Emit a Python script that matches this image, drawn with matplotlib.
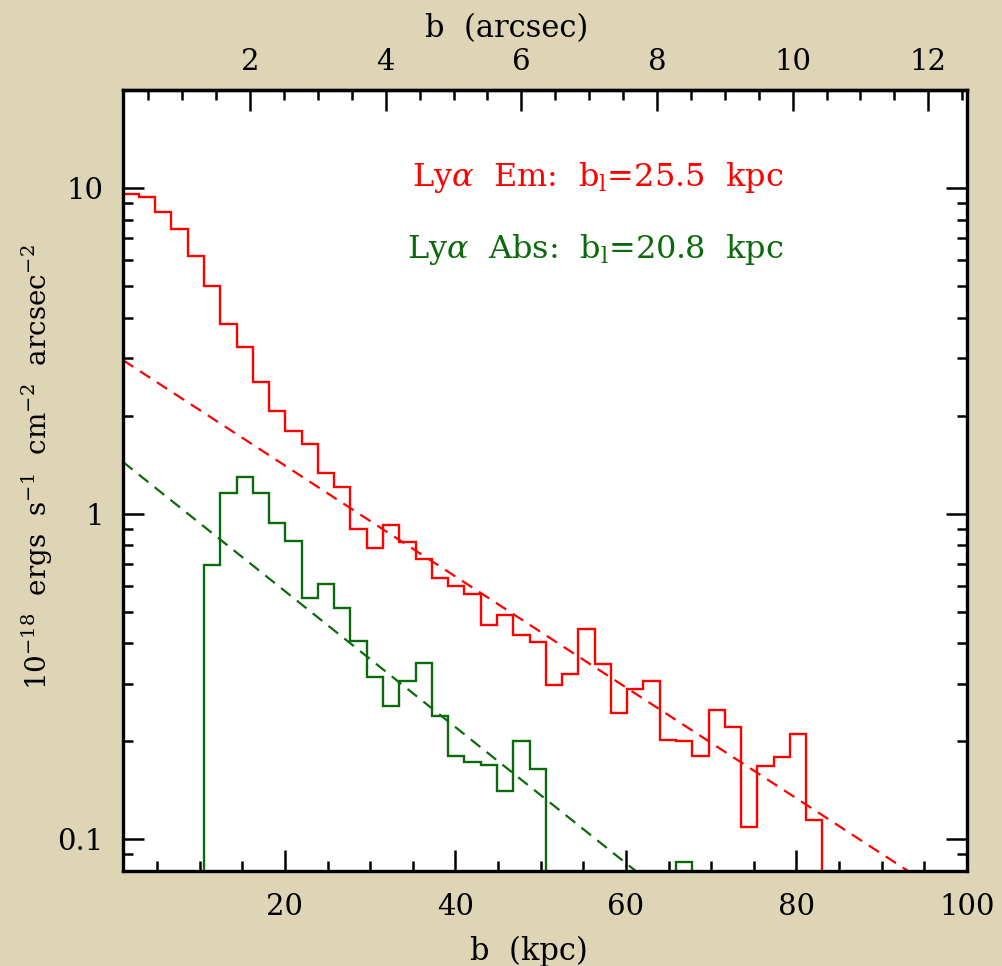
import numpy as np
import matplotlib
matplotlib.use("Agg")
from matplotlib import pyplot as plt
from matplotlib.ticker import MultipleLocator, LogLocator, NullFormatter, FixedLocator

plt.rcParams['font.family'] = ['DejaVu Serif']
plt.rcParams['mathtext.fontset'] = 'dejavuserif'

# radial profile, bins of 0.24 arcsec
KPC_PER_ARCSEC = 7.955
BIN_ARCSEC = 0.24

# Lya emission surface brightness per bin (1e-18 erg/s/cm^2/arcsec^2)
lya_em = [9.60, 9.38, 8.47, 7.50, 6.19, 5.01, 3.82, 3.26, 2.53, 2.07,
          1.80, 1.64, 1.33, 1.21, 0.899, 0.786, 0.925, 0.818, 0.725, 0.636,
          0.600, 0.566, 0.455, 0.490, 0.423, 0.405, 0.298, 0.321, 0.444, 0.346,
          0.245, 0.289, 0.306, 0.202, 0.201, 0.181, 0.249, 0.221, 0.109, 0.168,
          0.179, 0.210, 0.115, 0, 0, 0, 0, 0, 0, 0, 0, 0]

# Lya absorption profile, same bins
lya_abs = [0, 0, 0, 0, 0, 0.698, 1.16, 1.296, 1.16, 0.936,
           0.822, 0.553, 0.610, 0.512, 0.408, 0.315, 0.257, 0.307, 0.347, 0.240,
           0.180, 0.173, 0.169, 0.141, 0.201, 0.165, 0, 0, 0, 0,
           0, 0, 0, 0, 0.085, 0, 0, 0, 0, 0,
           0, 0, 0, 0, 0, 0, 0, 0, 0, 0, 0, 0]

# exponential fits: A * exp(-b / b_l)
em_amp, em_bl = 3.08, 25.5
abs_amp, abs_bl = 1.513, 20.8

arcsec_ticks = [2, 4, 6, 8, 10, 12]

RED = '#ff0000'
GREEN = '#0c6a0c'
BG = '#ddd5b6'

bin_kpc = BIN_ARCSEC * KPC_PER_ARCSEC
edges = (np.arange(len(lya_em) + 1) + 0.5) * bin_kpc

fig = plt.figure(figsize=(10.03, 9.66), dpi=100, facecolor=BG)
ax = fig.add_axes([0.12263, 0.09834, 0.84147, 0.80849])
ax.set_yscale('log')
ax.set_xlim(1, 100)
ax.set_ylim(0.08, 20)

floor = 1e-3
ax.stairs(np.maximum(lya_em, floor), edges, color=RED, lw=1.7, baseline=None)
ax.stairs(np.maximum(lya_abs, floor), edges, color=GREEN, lw=1.7, baseline=None)

b = np.linspace(1, 100, 300)
dash = (0, (5.5, 3.6))
ax.plot(b, em_amp * np.exp(-b / em_bl), color=RED, lw=1.6, ls=dash)
ax.plot(b, abs_amp * np.exp(-b / abs_bl), color=GREEN, lw=1.6, ls=dash)

ax.text(0.343, 0.877, r'Ly$\alpha$  Em:  b$_{\rm l}$=%.1f  kpc' % em_bl, color=RED,
        fontsize=23, transform=ax.transAxes, va='baseline')
ax.text(0.337, 0.785, r'Ly$\alpha$  Abs:  b$_{\rm l}$=%.1f  kpc' % abs_bl, color=GREEN,
        fontsize=23, transform=ax.transAxes, va='baseline')

# axes styling
for s in ax.spines.values():
    s.set_linewidth(2.4)
ax.xaxis.set_major_locator(FixedLocator([20, 40, 60, 80, 100]))
ax.xaxis.set_minor_locator(MultipleLocator(5))
ax.yaxis.set_major_locator(FixedLocator([0.1, 1, 10]))
ax.set_yticklabels(['0.1', '1', '10'])
ax.yaxis.set_minor_locator(LogLocator(subs=np.arange(2, 10)))
ax.yaxis.set_minor_formatter(NullFormatter())
ax.tick_params(which='both', direction='in', top=False, right=True, labelsize=21, width=1.8)
ax.tick_params(which='major', length=15)
ax.tick_params(which='minor', length=7.5)
ax.tick_params(axis='x', pad=16)
ax.tick_params(axis='y', pad=14)

sec = ax.secondary_xaxis('top', functions=(lambda x: x / KPC_PER_ARCSEC,
                                           lambda a: a * KPC_PER_ARCSEC))
sec.xaxis.set_major_locator(FixedLocator(arcsec_ticks))
sec.xaxis.set_minor_locator(MultipleLocator(0.5))
sec.tick_params(which='both', direction='in', labelsize=21, width=1.8, pad=10)
sec.tick_params(which='major', length=15)
sec.tick_params(which='minor', length=7.5)
sec.spines['top'].set_linewidth(2.4)

ax.set_xlabel('b  (kpc)', fontsize=22)
ax.xaxis.set_label_coords(0.481, -0.083)
sec.set_xlabel('b  (arcsec)', fontsize=22)
sec.xaxis.set_label_coords(0.454, 1.068, transform=ax.transAxes)
ax.set_ylabel(r'10$^{-18}$  ergs  s$^{-1}$  cm$^{-2}$  arcsec$^{-2}$', fontsize=20)
ax.yaxis.set_label_coords(-0.08, 0.517)

fig.savefig('out.png', dpi=100, facecolor=BG)
